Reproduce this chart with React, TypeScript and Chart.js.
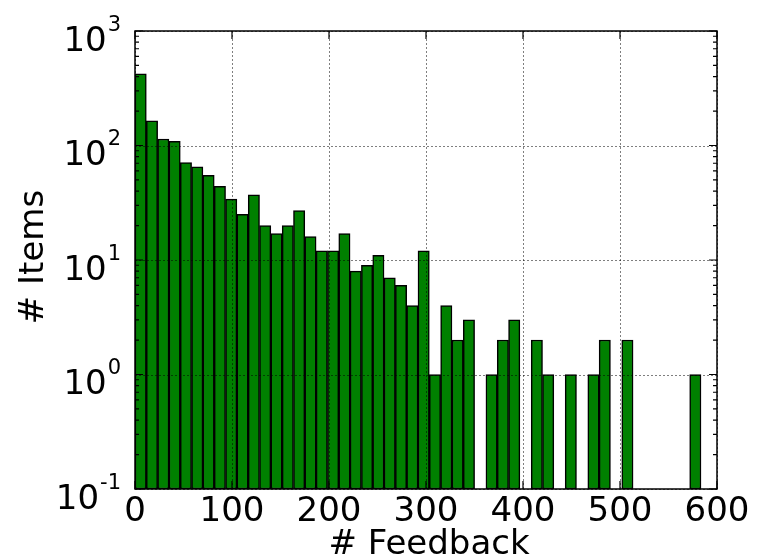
import React, { useEffect, useRef } from "react";
import { Chart, registerables } from "chart.js";

Chart.register(...registerables);

// Histogram: bin width in "# Feedback" units, and item counts per bin (null = empty bin)
const BIN_WIDTH = 11.67;
const COUNTS: (number | null)[] = [
  422, 164, 114, 109, 71, 65, 55, 44, 34, 25,
  37, 20, 17, 20, 27, 16, 12, 12, 17, 8,
  9, 11, 7, 6, 4, 12, 1, 4, 2, 3,
  null, 1, 2, 3, null, 2, 1, null, 1, null,
  1, 2, null, 2, null, null, null, null, null, 1,
];
const X_TICKS = [0, 100, 200, 300, 400, 500, 600];
const Y_TICKS = [0.1, 1, 10, 100, 1000];
const Y_TICK_EXP = ["-1", "0", "1", "2", "3"];
const X_TITLE = "# Feedback";
const Y_TITLE = "# Items";

const FONT = "DejaVu Sans";

const overlayPlugin = {
  id: "mplOverlay",
  afterDatasetsDraw(chart: any) {
    const ctx = chart.ctx;
    const { left, right, top, bottom } = chart.chartArea;
    const xs = chart.scales.x;
    const ys = chart.scales.y;
    ctx.save();
    // dotted grid on top of bars
    ctx.strokeStyle = "rgba(0,0,0,0.5)";
    ctx.lineWidth = 1;
    ctx.setLineDash([2, 2]);
    for (const v of X_TICKS) {
      const px = Math.round(xs.getPixelForValue(v)) + 0.5;
      ctx.beginPath();
      ctx.moveTo(px, top);
      ctx.lineTo(px, bottom);
      ctx.stroke();
    }
    for (const v of Y_TICKS) {
      const py = Math.round(ys.getPixelForValue(v)) + 0.5;
      ctx.beginPath();
      ctx.moveTo(left, py);
      ctx.lineTo(right, py);
      ctx.stroke();
    }
    ctx.setLineDash([]);
    // tick marks (inward)
    ctx.strokeStyle = "#000";
    ctx.lineWidth = 1.2;
    for (const v of X_TICKS) {
      const px = xs.getPixelForValue(v);
      ctx.beginPath();
      ctx.moveTo(px, bottom);
      ctx.lineTo(px, bottom - 8);
      ctx.moveTo(px, top);
      ctx.lineTo(px, top + 8);
      ctx.stroke();
    }
    for (let d = 0; d < Y_TICKS.length; d++) {
      const base = Y_TICKS[d];
      const py = ys.getPixelForValue(base);
      ctx.beginPath();
      ctx.moveTo(left, py);
      ctx.lineTo(left + 8, py);
      ctx.moveTo(right, py);
      ctx.lineTo(right - 8, py);
      ctx.stroke();
      if (d < Y_TICKS.length - 1) {
        for (let m = 2; m <= 9; m++) {
          const my = ys.getPixelForValue(base * m);
          ctx.beginPath();
          ctx.moveTo(left, my);
          ctx.lineTo(left + 4, my);
          ctx.moveTo(right, my);
          ctx.lineTo(right - 4, my);
          ctx.stroke();
        }
      }
    }
    // frame
    ctx.lineWidth = 1.5;
    ctx.strokeRect(left, top, right - left, bottom - top);
    ctx.restore();
  },
  afterDraw(chart: any) {
    const ctx = chart.ctx;
    const { left, right, top, bottom } = chart.chartArea;
    const xs = chart.scales.x;
    const ys = chart.scales.y;
    ctx.save();
    ctx.fillStyle = "#000";
    // x tick labels
    ctx.font = `34px "${FONT}"`;
    ctx.textAlign = "center";
    ctx.textBaseline = "alphabetic";
    for (const v of X_TICKS) {
      ctx.fillText(String(v), xs.getPixelForValue(v), bottom + 32);
    }
    // y tick labels 10^n
    const rightEdge = left - 14;
    for (let i = 0; i < Y_TICKS.length; i++) {
      const py = ys.getPixelForValue(Y_TICKS[i]);
      ctx.font = `21px "${FONT}"`;
      ctx.textAlign = "left";
      const supW = ctx.measureText(Y_TICK_EXP[i]).width;
      const supX = rightEdge - supW;
      ctx.fillText(Y_TICK_EXP[i], supX, py - 0.5);
      ctx.font = `34px "${FONT}"`;
      ctx.textAlign = "right";
      ctx.fillText("10", supX - 1, py + 19.5);
    }
    // x title
    ctx.font = `34px "${FONT}"`;
    ctx.textAlign = "center";
    ctx.fillText(X_TITLE, (left + right) / 2 + 3, bottom + 65);
    // y title
    ctx.translate(43, (top + bottom) / 2 - 3);
    ctx.rotate(-Math.PI / 2);
    ctx.textAlign = "center";
    ctx.fillText(Y_TITLE, 0, 0);
    ctx.restore();
  },
};

export default function App() {
  const ref = useRef<HTMLCanvasElement | null>(null);
  useEffect(() => {
    document.body.style.margin = "0";
    const canvas = ref.current;
    if (!canvas) return;
    const data = COUNTS.map((c, i) => ({ x: (i + 0.5) * BIN_WIDTH, y: c }));
    const chart = new Chart(canvas, {
      type: "bar",
      data: {
        datasets: [
          {
            data: data as any,
            backgroundColor: "#008000",
            borderColor: "#000000",
            borderWidth: 1.5,
            borderSkipped: false,
            barPercentage: 1,
            categoryPercentage: 1,
          },
        ],
      },
      options: {
        responsive: false,
        animation: false,
        devicePixelRatio: 1,
        layout: { padding: { top: 31, right: 47, bottom: 0, left: 0 } },
        plugins: { legend: { display: false }, tooltip: { enabled: false } },
        scales: {
          x: {
            type: "linear",
            min: 0,
            max: 600,
            offset: false,
            grid: { display: false },
            border: { display: false },
            ticks: { display: false },
            afterFit: (s: any) => {
              s.height = 69;
            },
          },
          y: {
            type: "logarithmic",
            min: 0.1,
            max: 1000,
            grid: { display: false },
            border: { display: false },
            ticks: { display: false },
            afterBuildTicks: (s: any) => {
              s.ticks = Y_TICKS.map((v) => ({ value: v }));
            },
            afterFit: (s: any) => {
              s.width = 135;
            },
          },
        },
      },
      plugins: [overlayPlugin],
    });
    return () => chart.destroy();
  }, []);
  return (
    <div style={{ width: 764, height: 558, background: "#fff" }}>
      <canvas ref={ref} width={764} height={558} style={{ display: "block" }} />
    </div>
  );
}
